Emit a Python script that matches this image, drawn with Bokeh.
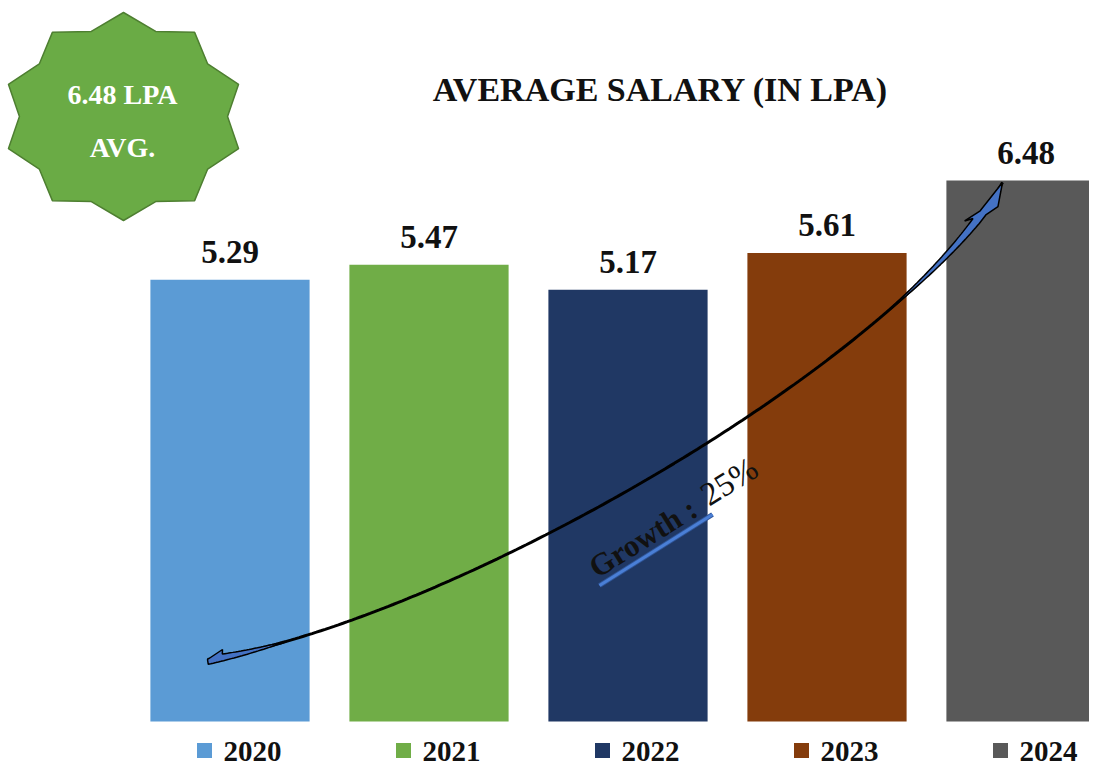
import numpy as np
from bokeh.plotting import figure
from bokeh.models import Range1d, ColumnDataSource
from bokeh.core.properties import value
from bokeh.embed import file_html
from bokeh.resources import INLINE

# ---------------- data ----------------
years = ["2020", "2021", "2022", "2023", "2024"]
salaries = [5.29, 5.47, 5.17, 5.61, 6.48]
bar_colors = ["#5B9BD5", "#70AD47", "#203864", "#843C0C", "#595959"]
title_text = "AVERAGE SALARY (IN LPA)"
badge_lines = ["6.48 LPA", "AVG."]
growth_label = "Growth :"
growth_value = "25%"

# ---------------- geometry ----------------
W, H = 1089, 768
X0, DX = 229.5, 199.0   # px of first bar centre, bar spacing
Y0, KY = 721.0, 83.5    # px of baseline, px per LPA
FONT = value("Liberation Serif")
SH = 0.29               # baseline correction (fraction of font size)


def dx(px):
    return (np.asarray(px, dtype=float) - X0) / DX


def dy(py):
    return (Y0 - np.asarray(py, dtype=float)) / KY


p = figure(width=W, height=H, title=None,
           x_range=Range1d(float(dx(0)), float(dx(W))),
           y_range=Range1d(float(dy(H)), float(dy(0))),
           x_axis_type=None, y_axis_type=None,
           output_backend="svg", toolbar_location=None,
           min_border=0, min_border_left=0, min_border_right=0,
           min_border_top=0, min_border_bottom=0)
p.grid.visible = False
p.outline_line_color = None
p.background_fill_color = "white"

idx = list(range(len(years)))
src = ColumnDataSource(dict(x=idx, top=salaries, color=bar_colors, year=years,
                            label=[f"{v:.2f}" for v in salaries],
                            lx=[i - 25.5 / DX for i in idx]))

# bars
p.vbar(x="x", top="top", bottom=0, width=0.8, fill_color="color",
       line_color=None, source=src)

# value labels
p.text(x="x", y="top", text="label", y_offset=-18 - SH * 33, text_align="center",
       text_baseline="alphabetic", text_font=FONT, text_font_style="bold",
       text_font_size="33px", text_color="#111111", source=src)

# legend (manual, aligned with categories)
p.scatter(x="lx", y=float(dy(750)), marker="square", size=15,
          fill_color="color", line_color=None, source=src)
p.text(x="x", y=float(dy(759 - SH * 29)), text="year", x_offset=-6.5,
       text_align="left", text_baseline="alphabetic", text_font=FONT,
       text_font_style="bold", text_font_size="29px", text_color="#111111",
       source=src)

# title
p.text(x=[float(dx(660))], y=[float(dy(99 - SH * 34))], text=[title_text],
       text_align="center", text_baseline="alphabetic", text_font=FONT,
       text_font_style="bold", text_font_size="34px", text_color="#111111")

# badge star
cx, cy, rx, ry, ratio = 123.0, 116.0, 121.0, 104.0, 0.86
sx, sy = [], []
for k in range(20):
    ang = np.deg2rad(90 + 18 * k)
    r = 1.0 if k % 2 == 0 else ratio
    sx.append(cx + rx * r * np.cos(ang))
    sy.append(cy - ry * r * np.sin(ang))
p.patch(x=dx(sx), y=dy(sy), fill_color="#6AAB45", line_color="#4E7F31",
        line_width=1.5)
p.text(x=[float(dx(122)), float(dx(122))],
       y=[float(dy(102 - SH * 28)), float(dy(155 - SH * 28))],
       text=badge_lines, text_align="center", text_baseline="alphabetic",
       text_font=FONT, text_font_style="bold", text_font_size="28px",
       text_color="white")

# growth arrow (cubic bezier in px)
P0 = np.array([207.0, 659.0])
P1 = np.array([450.0, 620.0])
P2 = np.array([900.0, 360.0])
P3 = np.array([1002.0, 182.0])


def bez(t):
    t = np.asarray(t)[..., None]
    return ((1 - t) ** 3) * P0 + 3 * ((1 - t) ** 2) * t * P1 + 3 * (1 - t) * t * t * P2 + (t ** 3) * P3


def bez_d(t):
    t = np.asarray(t)[..., None]
    return 3 * ((1 - t) ** 2) * (P1 - P0) + 6 * (1 - t) * t * (P2 - P1) + 3 * t * t * (P3 - P2)


def normal(t):
    d = bez_d(t)
    n = np.stack([-d[..., 1], d[..., 0]], axis=-1)
    return n / np.linalg.norm(n, axis=-1, keepdims=True)


tt = np.linspace(0, 1, 200)
pts = bez(tt)
p.line(x=dx(pts[:, 0]), y=dy(pts[:, 1]), line_color="black", line_width=3)

# arrow head band
tb = np.linspace(0.78, 0.93, 40)
hw = np.linspace(0.3, 4.0, 40)
c = bez(tb)
n = normal(tb)
left = c - n * hw[:, None]
right = c + n * hw[:, None]
head = [bez(0.92) - normal(0.92) * 9, bez(0.945) - normal(0.945) * 3, P3,
        bez(0.965) + normal(0.965) * 9, bez(0.945) + normal(0.945) * 4]
poly = np.vstack([left, np.array(head), right[::-1]])
p.patch(x=dx(poly[:, 0]), y=dy(poly[:, 1]), fill_color="#4472C4",
        line_color="black", line_width=1.5)

# tail
tb2 = np.linspace(0.0, 0.1, 30)
hw2 = np.linspace(3.5, 0.2, 30)
c2 = bez(tb2)
n2 = normal(tb2)
up = c2 - n2 * hw2[:, None]
dn = c2 + n2 * (hw2[:, None] * 1.4)
tab = np.array([[222.0, 649.0]])
tail = np.vstack([P0[None, :], tab, up[6:], dn[::-1]])
p.patch(x=dx(tail[:, 0]), y=dy(tail[:, 1]), fill_color="#4472C4",
        line_color="black", line_width=1.5)

# growth text (rotated)
deg = 32
ang = np.deg2rad(deg)
ux, uy = -np.sin(ang), -np.cos(ang)   # "up" direction of rotated text, in px
p.segment(x0=[float(dx(599))], y0=[float(dy(585))], x1=[float(dx(712))],
          y1=[float(dy(514))], line_color="#2F5597", line_width=5)
p.segment(x0=[float(dx(599))], y0=[float(dy(585))], x1=[float(dx(712))],
          y1=[float(dy(514))], line_color="#4A7FD6", line_width=3)
s1 = SH * 31
p.text(x=[float(dx(596 + ux * s1))], y=[float(dy(577 + uy * s1))],
       text=[growth_label], angle=ang,
       text_align="left", text_baseline="alphabetic", text_font=FONT,
       text_font_style="bold", text_font_size="31px", text_color="#111111")
s2 = SH * 33
p.text(x=[float(dx(708 + ux * s2))], y=[float(dy(505 + uy * s2))],
       text=[growth_value], angle=ang,
       text_align="left", text_baseline="alphabetic", text_font=FONT,
       text_font_style="normal", text_font_size="33px", text_color="#111111")

open("out.html", "w").write(file_html(p, INLINE))
